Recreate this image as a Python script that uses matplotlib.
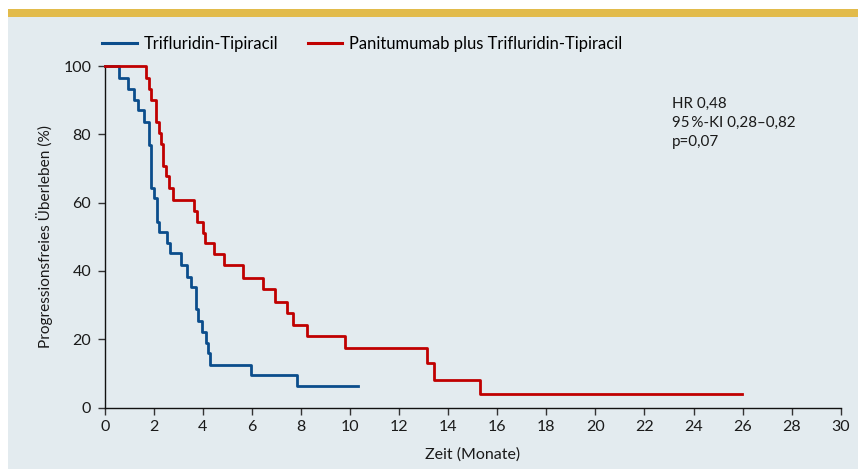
import matplotlib
matplotlib.use("Agg")
import matplotlib.pyplot as plt
from matplotlib.lines import Line2D
from matplotlib.patches import Rectangle

plt.rcParams["font.family"] = ["Lato", "DejaVu Sans"]

# Kaplan-Meier curves (months, % progression-free)
blue_times = [0.59, 0.96, 1.20, 1.37, 1.61, 1.79, 1.87, 2.01, 2.12, 2.20,
              2.52, 2.66, 3.09, 3.36, 3.50, 3.71, 3.81, 3.95, 4.11, 4.19,
              4.29, 5.97, 7.85]
blue_surv = [96.6, 93.2, 90.0, 87.1, 83.7, 76.9, 64.4, 61.3, 54.4, 51.5,
             48.3, 45.2, 41.7, 38.1, 35.2, 28.8, 25.4, 22.2, 19.0, 15.9,
             12.4, 9.4, 6.3]
blue_end = 10.33

red_times = [1.68, 1.79, 1.90, 2.09, 2.22, 2.30, 2.38, 2.51, 2.63, 2.79,
             3.65, 3.75, 4.02, 4.08, 4.45, 4.87, 5.62, 6.46, 6.94, 7.42,
             7.68, 8.23, 9.79, 13.12, 13.42, 15.30]
red_surv = [96.4, 93.2, 90.0, 83.7, 80.3, 77.2, 70.8, 67.8, 64.2, 60.8,
            57.5, 54.4, 51.2, 48.1, 44.9, 41.7, 37.8, 34.6, 31.0, 27.8,
            24.2, 20.9, 17.3, 12.9, 8.1, 4.0]
red_end = 25.96

labels = ["Trifluridin-Tipiracil", "Panitumumab plus Trifluridin-Tipiracil"]
stats_text = "HR 0,48\n95\u2009%-KI 0,28\u20130,82\np=0,07"

BLUE = "#0b4d8c"
RED = "#c00000"
PANEL = "#e3ebef"
GOLD = "#e2bb4b"
TXT = "#1a1a1a"

W, H = 858, 469
fig = plt.figure(figsize=(W / 100, H / 100), dpi=100)
fig.patch.set_facecolor("white")

# background panel + yellow band on top
fig.add_artist(Rectangle((8 / W, 0), 1, 1 - 17 / H, transform=fig.transFigure,
                         facecolor=PANEL, edgecolor="none", zorder=0))
fig.add_artist(Rectangle((8 / W, 1 - 17 / H), 1, 8 / H, transform=fig.transFigure,
                         facecolor=GOLD, edgecolor="none", zorder=0))

x0, x1 = 104.8, 840.7
y0, y1 = 407.5, 66.0
ax = fig.add_axes([x0 / W, 1 - y0 / H, (x1 - x0) / W, (y0 - y1) / H])
ax.set_facecolor("none")


def km(times, surv, end):
    xs = [0] + times + [end]
    ys = [100] + surv + [surv[-1]]
    return xs, ys


bx, by = km(blue_times, blue_surv, blue_end)
rx, ry = km(red_times, red_surv, red_end)
ax.step(bx, by, where="post", color=BLUE, lw=2.0, clip_on=False, zorder=3)
ax.step(rx, ry, where="post", color=RED, lw=2.0, clip_on=False, zorder=4)

ax.set_xlim(0, 30)
ax.set_ylim(0, 100)
ax.set_xticks(range(0, 31, 2))
ax.set_yticks(range(0, 101, 20))
for s in ("top", "right"):
    ax.spines[s].set_visible(False)
for s in ("left", "bottom"):
    ax.spines[s].set_linewidth(1.0)
    ax.spines[s].set_color("#111111")
ax.tick_params(axis="both", direction="out", length=5.3, width=1.0,
               color="#333333", labelsize=11.5, labelcolor=TXT)
ax.tick_params(axis="x", pad=4.0)
ax.tick_params(axis="y", pad=4.5)

ax.set_xlabel("Zeit (Monate)", fontsize=11.5, color=TXT, labelpad=9.5)
ax.set_ylabel("Progressionsfreies Überleben (%)", fontsize=11.1,
              color=TXT, labelpad=7)

ax.text(672 / W, 1 - 97 / H, stats_text, transform=fig.transFigure,
        fontsize=10.9, color=TXT, va="top", ha="left", linespacing=1.45)

handles = [Line2D([0], [0], color=BLUE, lw=2.2),
           Line2D([0], [0], color=RED, lw=2.2)]
fig.legend(handles, labels, loc="center left", ncol=2, frameon=False,
           bbox_to_anchor=(102 / W, 1 - 44 / H), borderpad=0, borderaxespad=0,
           handlelength=2.1, handletextpad=0.4, columnspacing=1.8,
           fontsize=11.9)

fig.savefig("out.png", dpi=100)
